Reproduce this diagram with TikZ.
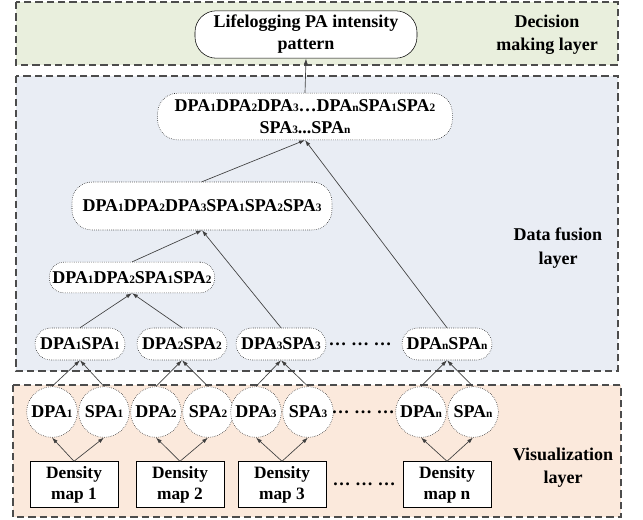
\documentclass[tikz,border=0pt]{standalone}
\usepackage{fontspec}
\setmainfont{Liberation Serif}
\usepackage{tikz}
\usetikzlibrary{arrows.meta}
\usetikzlibrary{positioning}
\definecolor{declayer}{RGB}{233,239,221}
\definecolor{fuslayer}{RGB}{233,237,244}
\definecolor{vislayer}{RGB}{251,233,220}
\newcommand{\ix}[1]{{\fontsize{8.5pt}{8.5pt}\selectfont #1}}
\newcommand{\dpa}[1]{DPA\ix{#1}}
\newcommand{\spa}[1]{SPA\ix{#1}}
\tikzset{
  layer/.style={draw=black!70, line width=1.1pt, dash pattern=on 5.5pt off 3pt},
  decnode/.style={draw, thin, fill=white, rounded corners=16pt, align=center, minimum height=33.75pt},
  fusenode/.style={draw, densely dotted, fill=white, rounded corners=12pt, align=center, inner xsep=2pt},
  pairnode/.style={fusenode, minimum width=67.5pt, minimum height=24pt},
  featnode/.style={draw, densely dotted, fill=white, circle, inner sep=0pt, minimum size=38pt},
  mapbox/.style={draw, thin, fill=white, align=center, minimum width=66pt, minimum height=34pt, font=\fontsize{13pt}{16pt}\selectfont\bfseries},
  laylabel/.style={align=center, font=\fontsize{13.5pt}{17.5pt}\selectfont\bfseries},
  arr/.style={-{Latex[length=4.5pt,width=3pt]}, draw=black!75, line width=0.5pt}
}
\begin{document}
\begin{tikzpicture}[x=0.75pt,y=-0.75pt,font=\fontsize{13.5pt}{16.5pt}\selectfont\bfseries]
  \useasboundingbox (0,0) rectangle (643,519);
  %the three layers
  \draw[layer, fill=declayer] (16,2) rectangle (618,65);
  \draw[layer, fill=fuslayer] (16,76) rectangle (618,371);
  \draw[layer, fill=vislayer] (13,385) rectangle (621,517);

  \node[laylabel] (declab) at (547,35) {Decision\\making layer};
  \node[laylabel] (fuslab) at (558,248) {Data fusion\\layer};
  \node[laylabel] (vislab) at (563,468) {Visualization\\layer};

  %decision making layer
  \node[decnode, minimum width=166.5pt] (life) at (306,34.5) {Lifelogging PA intensity\\pattern};

  %data fusion layer
  \node[fusenode, minimum width=221pt, minimum height=35pt, rounded corners=15pt] (all) at (305,116.5)
    {\dpa1\dpa2\dpa3…\dpa{n}\spa1\spa2\\\spa3...\spa{n}};
  \node[fusenode, minimum width=195pt, minimum height=36pt, rounded corners=15pt] (f3) at (202,206)
    {\dpa1\dpa2\dpa3\spa1\spa2\spa3};
  \node[fusenode, minimum width=124pt, minimum height=23pt, rounded corners=11pt] (f2) at (132,277.5)
    {\dpa1\dpa2\spa1\spa2};
  \node[pairnode] (p1) at (80,344) {\dpa1\spa1};
  \node[pairnode] (p2) at (182,344) {\dpa2\spa2};
  \node[pairnode] (p3) at (281,344) {\dpa3\spa3};
  \node (pdots) at (360,344) {… … …};
  \node[pairnode] (pn) at (447,344) {\dpa{n}\spa{n}};

  %visualization layer
  \node[featnode] (d1) at (52,412) {\dpa1};
  \node[featnode] (s1) at (104,412) {\spa1};
  \node[featnode] (d2) at (156,412) {\dpa2};
  \node[featnode] (s2) at (208,412) {\spa2};
  \node[featnode] (d3) at (256,412) {\dpa3};
  \node[featnode] (s3) at (308,412) {\spa3};
  \node (cdots) at (363,412) {… … …};
  \node[featnode] (dn) at (421,412) {\dpa{n}};
  \node[featnode] (sn) at (473,412) {\spa{n}};

  \node[mapbox] (m1) at (74,484.5) {Density\\map 1};
  \node[mapbox] (m2) at (180,484.5) {Density\\map 2};
  \node[mapbox] (m3) at (282,484.5) {Density\\map 3};
  \node (mdots) at (364,484.5) {… … …};
  \node[mapbox] (mn) at (447,484.5) {Density\\map n};

  %connectors
  \draw[arr] (all.north) -- (life.south);
  \draw[arr] (f3.north) -- (all.south);
  \draw[arr] (pn.north) -- (all.south);
  \draw[arr] (f2.north) -- (f3.south);
  \draw[arr] (p3.north) -- (f3.south);
  \draw[arr] (p1.north) -- (f2.south);
  \draw[arr] (p2.north) -- (f2.south);
  \foreach \c/\p in {d1/p1,s1/p1,d2/p2,s2/p2,d3/p3,s3/p3,dn/pn,sn/pn}
    \draw[arr] (\c.north) -- (\p.south);
  \foreach \m/\c in {m1/d1,m1/s1,m2/d2,m2/s2,m3/d3,m3/s3,mn/dn,mn/sn}
    \draw[arr] (\m.north) -- (\c.south);
\end{tikzpicture}
\end{document}
